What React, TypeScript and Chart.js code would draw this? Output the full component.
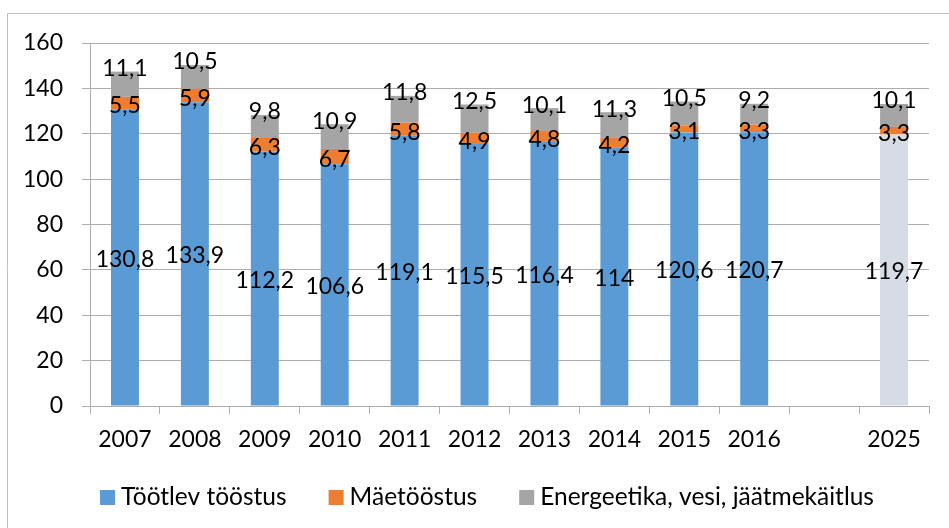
import React, { useEffect, useRef } from "react";
import { Chart, registerables } from "chart.js";

Chart.register(...registerables);

const categories = ["2007", "2008", "2009", "2010", "2011", "2012", "2013", "2014", "2015", "2016", "", "2025"];
const seriesNames = ["Töötlev tööstus", "Mäetööstus", "Energeetika, vesi, jäätmekäitlus"];
const manufacturing = [130.8, 133.9, 112.2, 106.6, 119.1, 115.5, 116.4, 114, 120.6, 120.7, null, 119.7];
const mining = [5.5, 5.9, 6.3, 6.7, 5.8, 4.9, 4.8, 4.2, 3.1, 3.3, null, 3.3];
const energy = [11.1, 10.5, 9.8, 10.9, 11.8, 12.5, 10.1, 11.3, 10.5, 9.2, null, 10.1];
const yTicks = [0, 20, 40, 60, 80, 100, 120, 140, 160];

const FONT = "Lato, 'Open Sans', sans-serif";
const BLUE = "#5B9BD5";
const BLUE_FORECAST = "#D6DCE5";
const ORANGE = "#ED7D31";
const GRAY = "#A5A5A5";
const GRID = "#ADADAD";

const fmt = (v: number) => String(v).replace(".", ",");

const labelPlugin = {
  id: "segLabels",
  afterDatasetsDraw(chart: any) {
    const ctx = chart.ctx;
    ctx.save();
    ctx.font = `23px ${FONT}`;
    ctx.fillStyle = "#000";
    ctx.textAlign = "center";
    ctx.textBaseline = "middle";
    chart.data.datasets.forEach((ds: any, di: number) => {
      const meta = chart.getDatasetMeta(di);
      meta.data.forEach((el: any, i: number) => {
        const v = ds.data[i];
        if (v == null) return;
        let y: number;
        if (di === 0) y = (el.y + el.base) / 2 + 2;
        else if (di === 1) y = (el.y + el.base) / 2 + 3;
        else y = el.y - 3;
        ctx.fillText(fmt(v), el.x, y);
      });
    });
    ctx.restore();
  },
};

const frameLegendPlugin = {
  id: "frameLegend",
  afterDraw(chart: any) {
    const ctx = chart.ctx;
    ctx.save();
    // outer frame (extends beyond the picture on the right and bottom)
    ctx.strokeStyle = "#BFBFBF";
    ctx.lineWidth = 1;
    ctx.beginPath();
    ctx.moveTo(7.5, chart.height);
    ctx.lineTo(7.5, 13.5);
    ctx.lineTo(chart.width, 13.5);
    ctx.stroke();

    // legend
    ctx.font = `24.5px ${FONT}`;
    ctx.textBaseline = "alphabetic";
    ctx.textAlign = "left";
    const box = 15;
    const gapText = 6;
    const gapItem = 42;
    const colors = [BLUE, ORANGE, GRAY];
    const widths = seriesNames.map((n) => ctx.measureText(n).width);
    const total = widths.reduce((a, w) => a + box + gapText + w, 0) + gapItem * (seriesNames.length - 1);
    let x = 487 - total / 2;
    const baseY = 505;
    seriesNames.forEach((n, i) => {
      ctx.fillStyle = colors[i];
      ctx.fillRect(x, baseY - box, box, box);
      ctx.fillStyle = "#000";
      ctx.fillText(n, x + box + gapText, baseY);
      x += box + gapText + widths[i] + gapItem;
    });
    ctx.restore();
  },
};

export default function App() {
  const ref = useRef<HTMLCanvasElement>(null);

  useEffect(() => {
    if (!ref.current) return;
    const blueColors = categories.map((c) => (c === "2025" ? BLUE_FORECAST : BLUE));
    const chart = new Chart(ref.current, {
      type: "bar",
      data: {
        labels: categories,
        datasets: [
          { label: seriesNames[0], data: manufacturing, backgroundColor: blueColors, barPercentage: 0.4, categoryPercentage: 1 },
          { label: seriesNames[1], data: mining, backgroundColor: ORANGE, barPercentage: 0.4, categoryPercentage: 1 },
          { label: seriesNames[2], data: energy, backgroundColor: GRAY, barPercentage: 0.4, categoryPercentage: 1 },
        ],
      },
      options: {
        responsive: false,
        animation: false,
        layout: { padding: { left: 0, right: 20, top: 43, bottom: 0 } },
        plugins: { legend: { display: false }, tooltip: { enabled: false } },
        scales: {
          x: {
            stacked: true,
            grid: { display: true, offset: true, drawOnChartArea: false, drawTicks: true, tickLength: 8, color: GRID },
            border: { display: true, color: GRID },
            ticks: { font: { family: FONT, size: 23 }, color: "#000", padding: 12, maxRotation: 0, autoSkip: false },
            afterFit: (s: any) => { s.height = 122; },
          },
          y: {
            stacked: true,
            min: 0,
            max: 160,
            afterBuildTicks: (s: any) => { s.ticks = yTicks.map((v) => ({ value: v })); },
            grid: { color: GRID, tickLength: 8, drawTicks: true },
            border: { display: true, color: GRID },
            ticks: { font: { family: FONT, size: 23 }, color: "#000", padding: 19 },
            afterFit: (s: any) => { s.width = 90; },
          },
        },
      },
      plugins: [labelPlugin, frameLegendPlugin],
    });
    return () => chart.destroy();
  }, []);

  return (
    <div style={{ position: "fixed", left: 0, top: 0, width: 949, height: 528, background: "#fff" }}>
      <canvas ref={ref} width={949} height={528} style={{ display: "block" }} />
    </div>
  );
}
